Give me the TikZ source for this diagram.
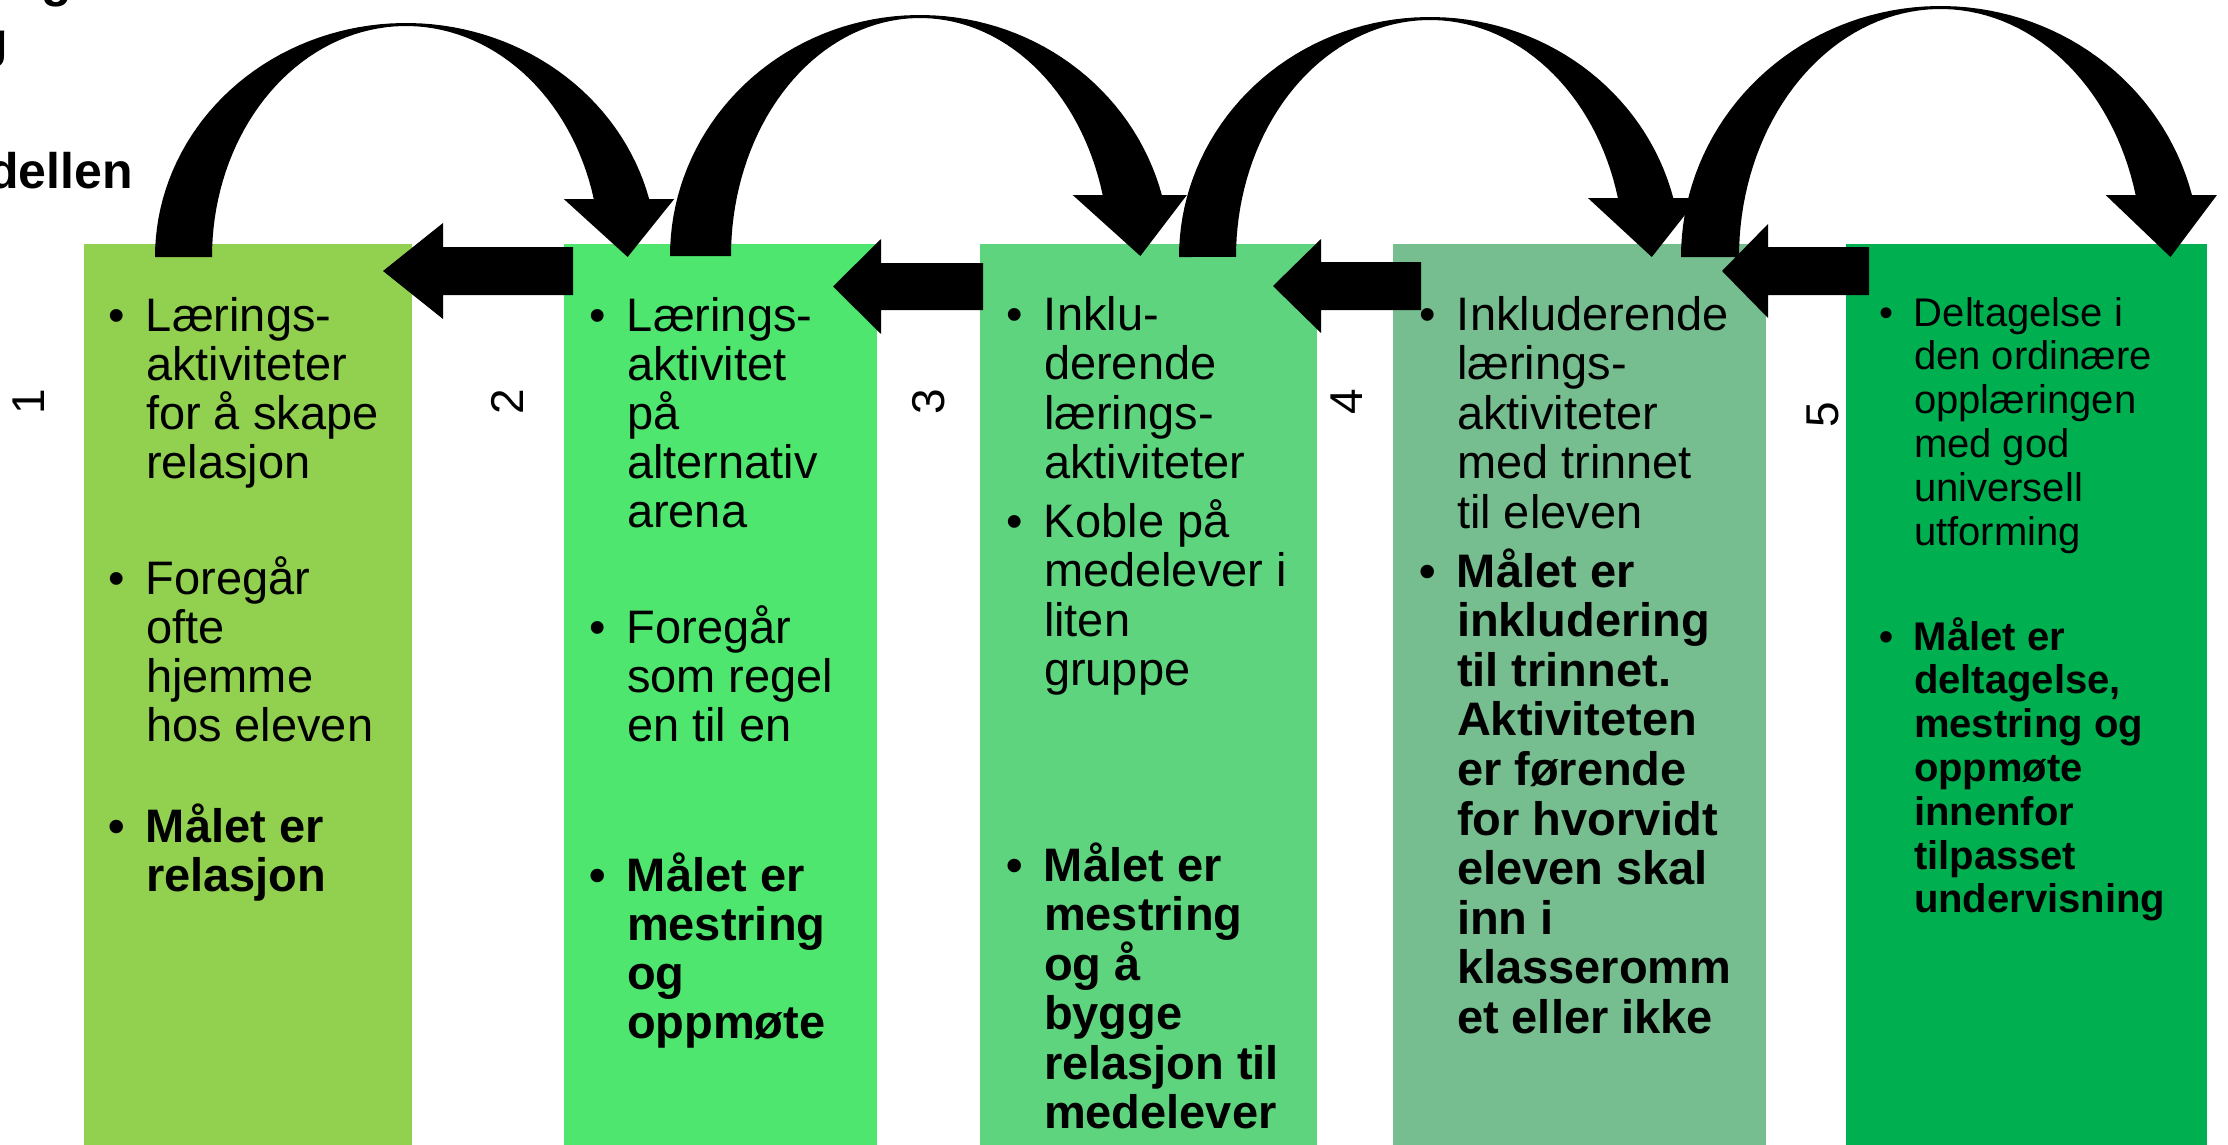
\documentclass[tikz,border=0pt]{standalone}
\usepackage{fontspec}
\setmainfont{Liberation Sans}
\definecolor{cA}{HTML}{92D050}
\definecolor{cB}{RGB}{78,230,110}
\definecolor{cC}{RGB}{94,212,126}
\definecolor{cD}{RGB}{118,189,143}
\definecolor{cE}{HTML}{00B050}
% curved block arrow: cx, yb, outer a, outer b, inner a, inner b, y of head base
\newcommand\curvarrow[7]{%
  \pgfmathsetmacro\phio{asin((#2-#7)/#4)}%
  \pgfmathsetmacro\phii{asin((#2-#7)/#6)}%
  \pgfmathsetmacro\xout{#1+#3*cos(\phio)}%
  \pgfmathsetmacro\xin{#1+#5*cos(\phii)}%
  \pgfmathsetmacro\endo{360-\phio}%
  \pgfmathsetmacro\endi{360-\phii}%
  \fill[blk] plot[domain=180:\endo,samples=70] ({#1+#3*cos(\x)},{#2+#4*sin(\x)})
    -- (\xout+25,#7) -- (\xout-21.5,#2) -- (\xin-30,#7)
    -- plot[domain=\endi:180,samples=70] ({#1+#5*cos(\x)},{#2+#6*sin(\x)}) -- cycle;}
% straight left block arrow: tail x, tip x, head base x, centre y, shaft half, head half
\newcommand\leftblock[6]{%
  \fill[blk] (#1,#4-#5) -- (#3,#4-#5) -- (#3,#4-#6) -- (#2,#4) -- (#3,#4+#6)
    -- (#3,#4+#5) -- (#1,#4+#5) -- cycle;}
\tikzset{
  blk/.style={fill=black},
  colbox/.style={anchor=north west, inner sep=0pt, outer sep=0pt, minimum height=901pt},
  rtx/.style={anchor=base west, inner sep=0pt, outer sep=0pt, align=left, font=\fontsize{47}{#1}\selectfont},
  btx/.style={anchor=base west, inner sep=0pt, outer sep=0pt, align=left, font=\bfseries\fontsize{47}{#1}\selectfont},
  rts/.style={anchor=base west, inner sep=0pt, outer sep=0pt, align=left, font=\fontsize{40}{#1}\selectfont},
  bts/.style={anchor=base west, inner sep=0pt, outer sep=0pt, align=left, font=\bfseries\fontsize{40}{#1}\selectfont},
  numtx/.style={rotate=90, inner sep=0pt, font=\fontsize{46}{50}\selectfont},
  ttl/.style={inner sep=0pt, font=\bfseries\fontsize{50}{60}\selectfont}
}
\newcommand\bul{\llap{•\hspace{21pt}}}
\begin{document}
\begin{tikzpicture}[x=1pt,y=-1pt]
\useasboundingbox (0,0) rectangle (2228,1145);
\fill[white] (0,0) rectangle (2228,1145);
% column boxes
\node[colbox, fill=cA, minimum width=328pt] (b1) at (84,244) {};
\node[colbox, fill=cB, minimum width=313pt] (b2) at (564,244) {};
\node[colbox, fill=cC, minimum width=337pt] (b3) at (980,244) {};
\node[colbox, fill=cD, minimum width=373pt] (b4) at (1393,244) {};
\node[colbox, fill=cE, minimum width=361pt] (b5) at (1846,244) {};
% title fragments
\node[ttl, anchor=base east] (tt1) at (133,188) {dellen};
\node[ttl, anchor=base west] (tt2) at (41,-3) {g};
\node[ttl, anchor=base west] (tt3) at (-23,58) {g};
% numbers
\node[numtx] (n1) at (29,402) {1};
\node[numtx] (n2) at (507,402) {2};
\node[numtx] (n3) at (929,402) {3};
\node[numtx] (n4) at (1347,402) {4};
\node[numtx] (n5) at (1823,415) {5};
% texts: node placed at the baseline of its last line (first baseline + (lines-1)*skip)
% box 1
\node[rtx=49] (t1a) at (146,331+3*49) {\bul Lærings-\\aktiviteter\\for å skape\\relasjon};
\node[rtx=49] (t1b) at (146,594+3*49) {\bul Foregår\\ofte\\hjemme\\hos eleven};
\node[btx=49] (t1c) at (146,842+1*49) {\bul Målet er\\relasjon};
% box 2
\node[rtx=49] (t2a) at (627,331+4*49) {\bul Lærings-\\aktivitet\\på\\alternativ\\arena};
\node[rtx=49] (t2b) at (627,643+2*49) {\bul Foregår\\som regel\\en til en};
\node[btx=49] (t2c) at (627,891+3*49) {\bul Målet er\\mestring\\og\\oppmøte};
% box 3
\node[rtx=49.5] (t3a) at (1044,330+3*49.5) {\bul Inklu-\\derende\\lærings-\\aktiviteter};
\node[rtx=49.5] (t3b) at (1044,537+3*49.5) {\bul Koble på\\medelever i\\liten\\gruppe};
\node[btx=49.5] (t3c) at (1044,881+5*49.5) {\bul Målet er\\mestring\\og å\\bygge\\relasjon til\\medelever};
% box 4
\node[rtx=49.5] (t4a) at (1457,330+4*49.5) {\bul Inkluderende\\lærings-\\aktiviteter\\med trinnet\\til eleven};
\node[btx=49.6] (t4b) at (1457,587+9*49.6) {\bul Målet er\\inkludering\\til trinnet.\\Aktiviteten\\er førende\\for hvorvidt\\eleven skal\\inn i\\klasseromm\\et eller ikke};
% box 5
\node[rts=43.8] (t5a) at (1914,326+5*43.8) {\bul Deltagelse i\\den ordinære\\opplæringen\\med god\\universell\\utforming};
\node[bts=43.8] (t5b) at (1914,650+6*43.8) {\bul Målet er\\deltagelse,\\mestring og\\oppmøte\\innenfor\\tilpasset\\undervisning};
% straight arrows (right to left)
\leftblock{573}{383}{443}{271}{24}{48}
\leftblock{983}{833}{881}{286.5}{23.5}{47.5}
\leftblock{1421}{1273}{1321}{286}{24}{47}
\leftblock{1869}{1722}{1768}{271}{24}{47}
% curved arrows (left to right over the top)
\curvarrow{406}{257}{251}{234}{194}{231}{199}
\curvarrow{920}{256}{250}{241}{189}{238}{195}
\curvarrow{1430}{257}{251}{240}{194}{237}{198}
\curvarrow{1940.5}{257}{259.5}{251}{201.5}{248}{195}
\end{tikzpicture}
\end{document}
